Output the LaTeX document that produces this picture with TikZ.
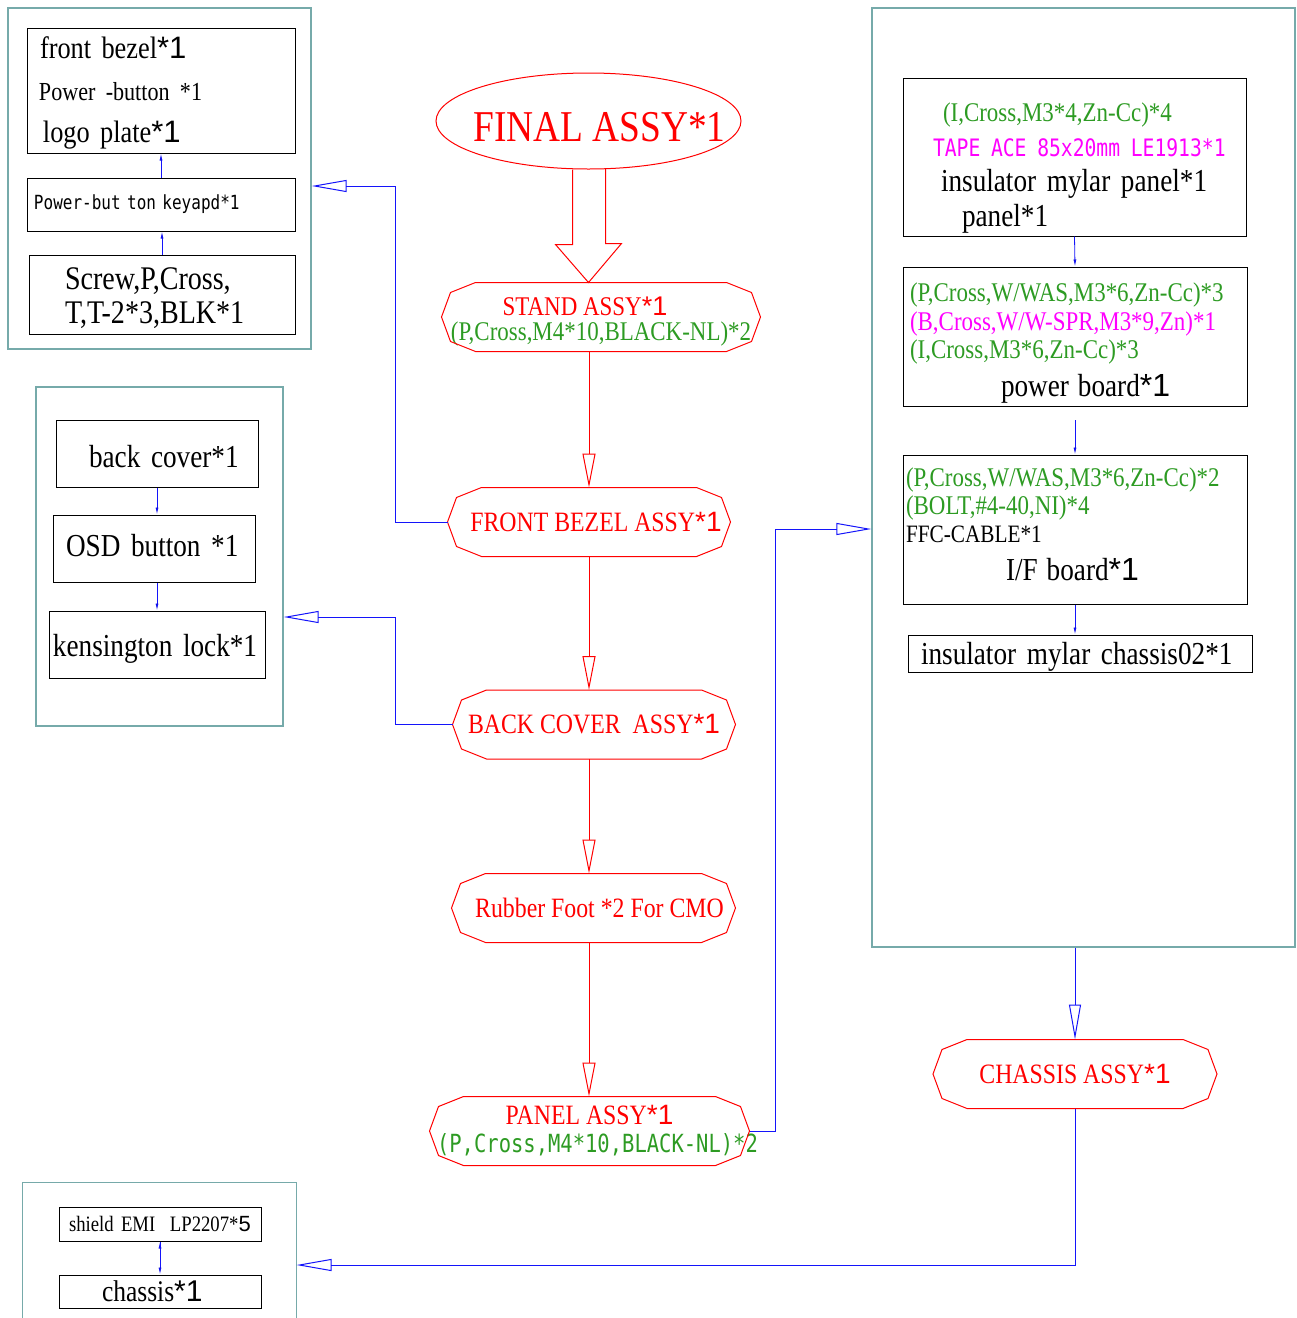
\documentclass[tikz,border=0pt]{standalone}
\usepackage{fontspec}
\setmainfont[FakeStretch=0.85]{Liberation Serif}
\setsansfont{Liberation Sans}
\newfontfamily\cadfont[FakeStretch=0.82]{DejaVu Sans Mono}
\usepackage{tikz}
\usetikzlibrary{arrows.meta,shapes.geometric}
\definecolor{grpteal}{RGB}{118,170,170}
\definecolor{partgreen}{RGB}{45,155,35}
\definecolor{partmagenta}{RGB}{255,0,255}
\definecolor{linkblue}{RGB}{20,20,250}
\newcommand\fs[2]{\fontsize{#1}{#2}\selectfont}
\newcommand\one[1]{{\sffamily #1}}

\begin{document}
\begin{tikzpicture}[x=1pt, y=-1pt, line width=1pt,
  part/.style={draw, inner xsep=3pt, inner ysep=0pt, align=left},
  assy/.style={text=red, minimum height=68pt, inner sep=0pt, align=center, font=\fs{28}{28}},
  grp/.style={draw=grpteal, line width=1.3pt, inner sep=0pt},
  link/.style={draw=linkblue, -{Triangle[open, length=35pt, width=12pt]}},
  minor/.style={draw=linkblue, line width=0.8pt, -{Latex[length=7pt, width=3pt]}},
  flow/.style={red, -{Triangle[open, length=34pt, width=13pt]}}]
  \useasboundingbox (0,0) rectangle (1297,1318);

  \node[grp, minimum width=303pt, minimum height=341pt] (frontgrp) at (159.5,178.5) {};
  \node[grp, minimum width=247pt, minimum height=339pt] (backgrp) at (159.5,556.5) {};
  \node[grp, minimum width=423pt, minimum height=939pt] (boardgrp) at (1083.5,477.5) {};
  \node[minimum width=273pt, minimum height=135pt, inner sep=0pt] (chassisgrp) at (159.5,1250.5) {};
  \draw[grpteal, line width=1.3pt] (chassisgrp.south west) |- (chassisgrp.north east) -- (chassisgrp.south east);

  \node[part, text width=262pt, minimum height=125pt, font=\fs{31}{42}] (fbbox) at (161,90.5)
    {\rule{0pt}{26pt}\hspace*{10pt}front bezel\one{*1}\\\hspace*{9pt}{\fs{26}{42}Power -button *1}\\\hspace*{13pt}logo plate\one{*1}};
  \node[part, text width=262pt, minimum height=53pt, font=\cadfont\fs{19.5}{19.5}] (keypad) at (161,204.5)
    {\hspace*{4pt}Power-but ton keyapd*1};
  \node[part, text width=260pt, minimum height=79pt, font=\fs{33}{34}] (screw) at (162,294.5)
    {\rule{0pt}{30pt}\hspace*{33pt}Screw,P,Cross,\\\hspace*{33pt}T,T-2*3,BLK*1};

  \node[part, text width=196pt, minimum height=67pt, font=\fs{32}{32}] (backcover) at (157,453.5) {\rule{0pt}{28pt}\hspace*{30pt}back cover*1};
  \node[part, text width=196pt, minimum height=67pt, font=\fs{32}{32}] (osd) at (154,548.5) {\rule[-6pt]{0pt}{6pt}\hspace*{10pt}OSD button *1};
  \node[part, text width=210pt, minimum height=67pt, font=\fs{32}{32}] (lock) at (157,644.5) {\rule{0pt}{30pt}\hspace*{1pt}kensington lock*1};

  \node[part, text width=337pt, minimum height=158pt, font=\fs{32}{35}] (panelbox) at (1074.5,157) {
    \rule{0pt}{41pt}\hspace*{37pt}{\fs{27}{35}\color{partgreen}(I,Cross,M3*4,Zn-Cc)*4}\\
    \hspace*{27pt}{\cadfont\fs{24}{35}\color{partmagenta}TAPE ACE 85x20mm LE1913*1}\\
    \hspace*{35pt}insulator mylar panel*1\\
    \hspace*{56pt}panel*1};
  \node[part, text width=338pt, minimum height=139pt, font=\fs{27}{28.5}] (powerbox) at (1075,336.5) {
    \rule{0pt}{32pt}\hspace*{4pt}{\color{partgreen}(P,Cross,W/WAS,M3*6,Zn-Cc)*3}\\
    \hspace*{4pt}{\color{partmagenta}(B,Cross,W/W-SPR,M3*9,Zn)*1}\\
    \hspace*{4pt}{\color{partgreen}(I,Cross,M3*6,Zn-Cc)*3}\\[9.5pt]
    \hspace*{95pt}{\fs{32}{28.5}power board\one{*1}}};
  \node[part, text width=338pt, minimum height=149pt, font=\fs{27}{28}] (ifbox) at (1075,529.5) {
    {\color{partgreen}(P,Cross,W/WAS,M3*6,Zn-Cc)*2}\\
    {\color{partgreen}(BOLT,\#4-40,NI)*4}\\
    {\fs{25}{28}FFC-CABLE*1}\\[10pt]
    \hspace*{100pt}{\fs{32}{28}I/F board\one{*1}}\rule[-10pt]{0pt}{10pt}};
  \node[part, text width=338pt, minimum height=37pt, font=\fs{32}{32}] (mylarbox) at (1080,653.5) {\rule{0pt}{28pt}\hspace*{10pt}insulator mylar chassis02*1};

  \node[part, text width=196pt, minimum height=34pt, font=\fs{22}{22}] (shield) at (160,1224) {\hspace*{7pt}shield EMI\ \ LP2207*\one{5}};
  \node[part, text width=196pt, minimum height=33pt, font=\fs{30}{30}] (chassis) at (160,1291.5) {\hspace*{40pt}chassis\one{*1}};

  \node[draw=red, ellipse, minimum width=305pt, minimum height=96pt, inner sep=0pt, text=red, font=\fs{44}{44}] (final) at (588.5,121) {\makebox[0pt]{\raisebox{-20pt}[0pt][0pt]{\hspace*{22pt}FINAL ASSY*1}}};
  \node[assy, minimum width=318pt, font=\fs{27}{25}] (standassy) at (601,317) {\rule{0pt}{28pt}STAND ASSY\one{*1}\hspace*{32pt}\\{\color{partgreen}(P,Cross,M4*10,BLACK-NL)*2}};
  \node[assy, minimum width=282pt] (frontassy) at (589,522) {\hspace*{14pt}FRONT BEZEL ASSY\one{*1}};
  \node[assy, minimum width=282pt] (backassy) at (594,724.5) {BACK COVER\ \ ASSY\one{*1}};
  \node[assy, minimum width=283pt] (footassy) at (593.5,908) {\hspace*{12pt}Rubber Foot *2 For CMO};
  \node[assy, minimum width=319pt] (panelassy) at (589.5,1131) {PANEL ASSY\one{*1}\\\makebox[0pt]{\hspace*{16pt}\cadfont\fs{25}{28}\color{partgreen}(P,Cross,M4*10,BLACK-NL)*2}};
  \node[assy, minimum width=283pt] (chassisassy) at (1075,1074) {CHASSIS ASSY\one{*1}};

  \foreach \n in {standassy,frontassy,backassy,footassy,panelassy,chassisassy}
    \draw[red] ([xshift=34pt]\n.north west) -- ([xshift=-34pt]\n.north east)
      -- ([xshift=-9pt,yshift=-10pt]\n.north east) -- (\n.east)
      -- ([xshift=-9pt,yshift=10pt]\n.south east) -- ([xshift=-34pt]\n.south east)
      -- ([xshift=34pt]\n.south west) -- ([xshift=9pt,yshift=10pt]\n.south west)
      -- (\n.west) -- ([xshift=9pt,yshift=-10pt]\n.north west) -- cycle;

  \coordinate (ifin) at (1075,420);

  \draw[red] ([xshift=-16pt]final.south) -- ++(0,75) -- ++(-17,0) -- (final.south |- standassy.north)
    -- ++(33,-39) -- ++(-16,0) -- ++(0,-75);
  \path[flow]
    (frontassy.north |- standassy.south) edge (frontassy.north)
    (frontassy.south) edge (frontassy.south |- backassy.north)
    (frontassy.south |- backassy.south) edge (frontassy.south |- footassy.north)
    (frontassy.south |- footassy.south) edge (frontassy.south |- panelassy.north);

  \draw[link] (frontassy.west) -- ++(-52,0) |- ([yshift=-7.5pt]frontgrp.east);
  \draw[link] (backassy.west) -- ++(-57,0) |- ([yshift=-60.5pt]backgrp.east);
  \draw[link] (panelassy.east) -- ++(26,0) |- ([yshift=-51.5pt]boardgrp.west);
  \draw[link] (chassisassy.north |- boardgrp.south) -- (chassisassy.north);
  \draw[link] (chassisassy.south) |- ([yshift=-14.5pt]chassisgrp.east);

  \path[minor]
    (keypad.north) edge (fbbox.south)
    (screw.north) edge (screw.north |- keypad.south)
    (backcover.south) edge (backcover.south |- osd.north)
    (backcover.south |- osd.south) edge (backcover.south |- lock.north)
    (panelbox.south) edge (powerbox.north)
    (ifin) edge (ifbox.north)
    (ifbox.south) edge (ifbox.south |- mylarbox.north)
    (shield.south) edge (chassis.north);
\end{tikzpicture}
\end{document}
